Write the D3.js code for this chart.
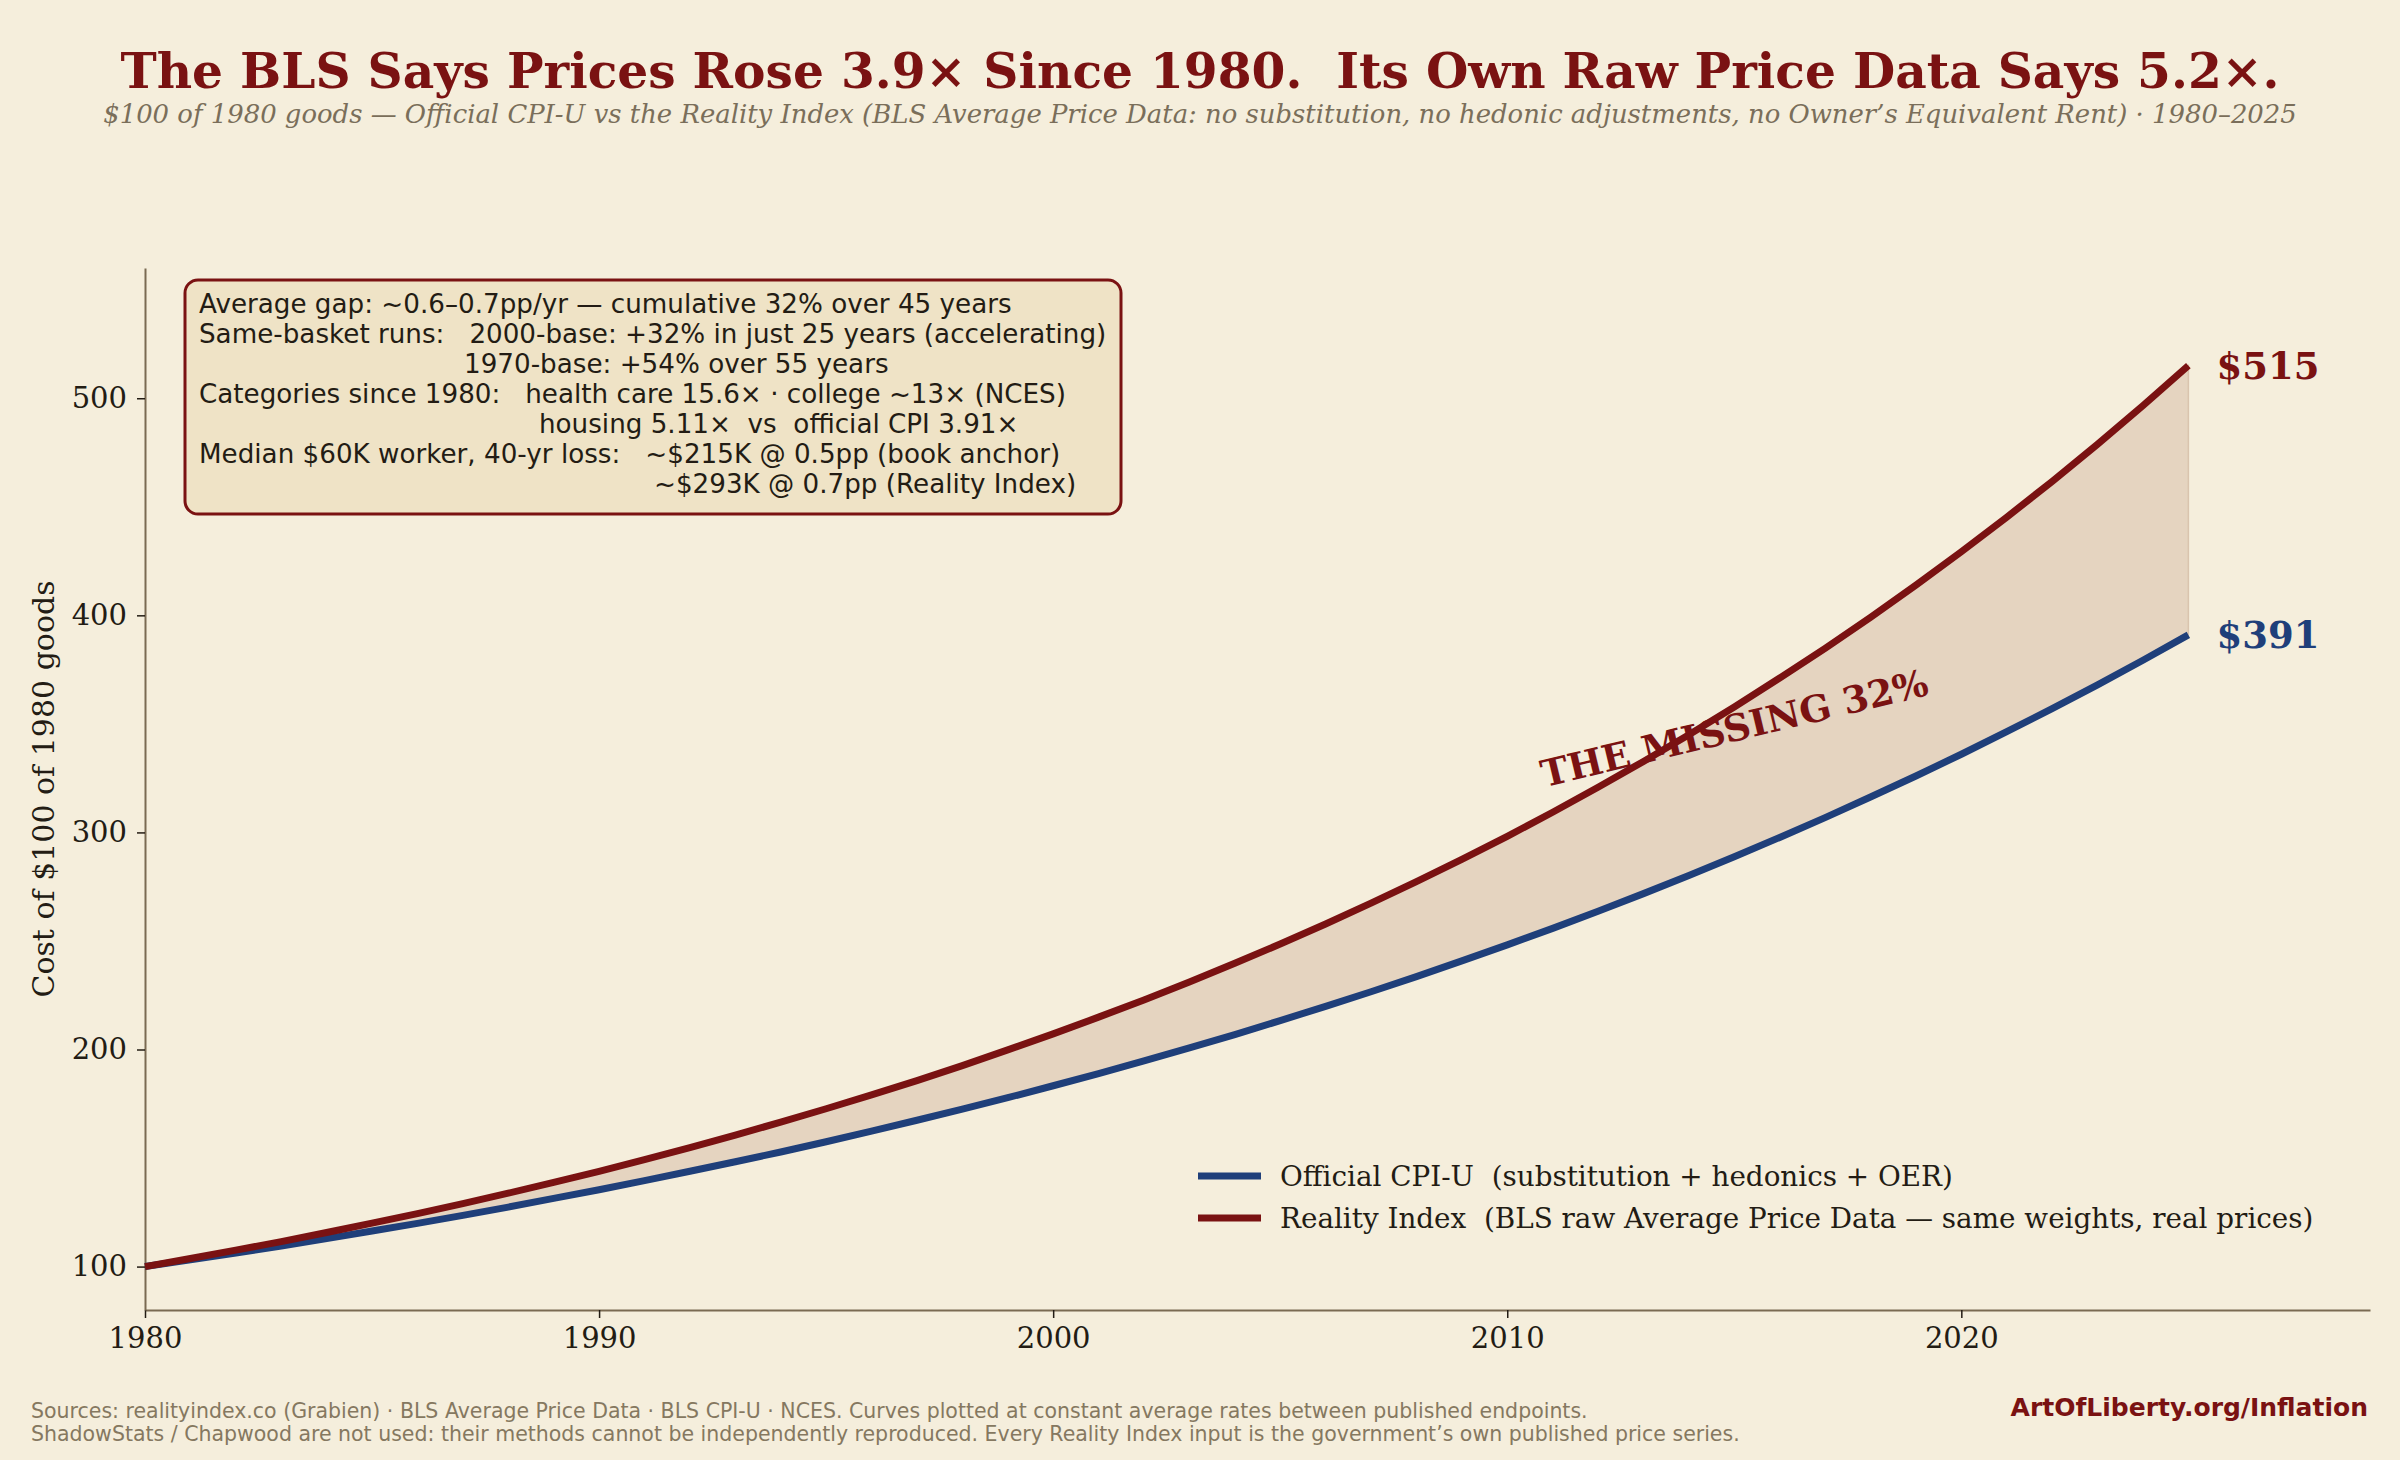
<!DOCTYPE html>
<html>
<head>
<meta charset="utf-8">
<script src="https://cdn.jsdelivr.net/npm/d3@7"></script>
<style>
  html, body { margin: 0; padding: 0; background: #f5eedc; }
  svg { display: block; }
  text { white-space: pre; }
</style>
</head>
<body>
<div id="chart"></div>
<script>
// values, one per year 1980..2025
var years = d3.range(1980, 2026);
var cpiValues = [
  100.0, 103.1, 106.2, 109.5, 112.9, 116.4, 119.9, 123.6, 127.4, 131.4,
  135.4, 139.6, 143.9, 148.3, 152.8, 157.5, 162.4, 167.4, 172.5, 177.8,
  183.3, 188.9, 194.8, 200.8, 206.9, 213.3, 219.9, 226.6, 233.6, 240.8,
  248.2, 255.8, 263.7, 271.8, 280.2, 288.8, 297.7, 306.8, 316.3, 326.0,
  336.0, 346.4, 357.0, 368.0, 379.3, 391.0
];
var realityValues = [
  100.0, 103.7, 107.6, 111.5, 115.7, 120.0, 124.4, 129.0, 133.8, 138.8,
  143.9, 149.3, 154.8, 160.6, 166.5, 172.7, 179.1, 185.7, 192.6, 199.8,
  207.2, 214.9, 222.8, 231.1, 239.7, 248.6, 257.8, 267.4, 277.3, 287.6,
  298.2, 309.3, 320.8, 332.7, 345.0, 357.8, 371.1, 384.8, 399.1, 413.9,
  429.3, 445.2, 461.7, 478.8, 496.6, 515.0
];
var xTicks = [1980, 1990, 2000, 2010, 2020];
var yTicks = [100, 200, 300, 400, 500];
var seriesNames = [
  "Official CPI-U  (substitution + hedonics + OER)",
  "Reality Index  (BLS raw Average Price Data \u2014 same weights, real prices)"
];
var endLabels = ["$391", "$515"];
var gapLabel = "THE MISSING 32%";
var gapLabelAt = [2015.0, 348];

var title = "The BLS Says Prices Rose 3.9\u00d7 Since 1980.  Its Own Raw Price Data Says 5.2\u00d7.";
var subtitle = "$100 of 1980 goods \u2014 Official CPI-U vs the Reality Index (BLS Average Price Data: no substitution, no hedonic adjustments, no Owner\u2019s Equivalent Rent) \u00b7 1980\u20132025";
var yLabel = "Cost of $100 of 1980 goods";
var boxLines = [
  ["Average gap: ~0.6\u20130.7pp/yr \u2014 cumulative 32% over 45 years", 0],
  ["Same-basket runs:   2000-base: +32% in just 25 years (accelerating)", 0],
  ["1970-base: +54% over 55 years", 265],
  ["Categories since 1980:   health care 15.6\u00d7 \u00b7 college ~13\u00d7 (NCES)", 0],
  ["housing 5.11\u00d7  vs  official CPI 3.91\u00d7", 340],
  ["Median $60K worker, 40-yr loss:   ~$215K @ 0.5pp (book anchor)", 0],
  ["~$293K @ 0.7pp (Reality Index)", 455]
];
var footerLines = [
  "Sources: realityindex.co (Grabien) \u00b7 BLS Average Price Data \u00b7 BLS CPI-U \u00b7 NCES. Curves plotted at constant average rates between published endpoints.",
  "ShadowStats / Chapwood are not used: their methods cannot be independently reproduced. Every Reality Index input is the government\u2019s own published price series."
];
var credit = "ArtOfLiberty.org/Inflation";

var W = 2400, H = 1460;
var margin = {top: 268, right: 30, bottom: 150, left: 145};
var red = "#7a1212", blue = "#1f3f7a", ink = "#231c14", spine = "#7a6a52";
var serif = "'DejaVu Serif', serif", sans = "'DejaVu Sans', sans-serif";

var svg = d3.select('#chart').append('svg')
    .attr('width', W).attr('height', H);
svg.append('rect').attr('width', W).attr('height', H).attr('fill', '#f5eedc');

var x = d3.scaleLinear().domain([1980, 2029]).range([margin.left, W - margin.right]);
var y = d3.scaleLinear().domain([80, 560]).range([H - margin.bottom, margin.top]);

var rows = years.map(function(yr, i) {
  return {year: yr, cpi: cpiValues[i], real: realityValues[i]};
});

// gap fill
svg.append('path')
  .datum(rows)
  .attr('fill', '#e5d4c0')
  .attr('stroke', '#d9c4ae')
  .attr('stroke-width', 1.5)
  .attr('d', d3.area()
        .x(function(d) { return x(d.year); })
        .y0(function(d) { return y(d.cpi); })
        .y1(function(d) { return y(d.real); }));

// axes
var xAxis = svg.append('g')
  .attr('transform', 'translate(0,' + (H - margin.bottom) + ')')
  .call(d3.axisBottom(x).tickValues(xTicks).tickFormat(d3.format('d'))
        .tickSize(8).tickSizeOuter(0).tickPadding(9));
var yAxis = svg.append('g')
  .attr('transform', 'translate(' + margin.left + ',0)')
  .call(d3.axisLeft(y).tickValues(yTicks).tickSize(8).tickSizeOuter(0).tickPadding(10));
[xAxis, yAxis].forEach(function(g) {
  g.select('.domain').attr('stroke', spine).attr('stroke-width', 2);
  g.selectAll('.tick line').attr('stroke', ink).attr('stroke-width', 1.5);
  g.selectAll('.tick text').attr('fill', ink)
    .style('font-family', serif).style('font-size', '29px');
});

svg.append('text')
  .attr('transform', 'translate(43,' + ((margin.top + H - margin.bottom) / 2) + ') rotate(-90)')
  .attr('text-anchor', 'middle').attr('dominant-baseline', 'central')
  .attr('fill', ink)
  .style('font-family', serif).style('font-size', '30px')
  .text(yLabel);

// lines
var line = function(key) {
  return d3.line().x(function(d) { return x(d.year); }).y(function(d) { return y(d[key]); });
};
svg.append('path').datum(rows)
  .attr('fill', 'none').attr('stroke', blue).attr('stroke-width', 7)
  .attr('d', line('cpi'));
svg.append('path').datum(rows)
  .attr('fill', 'none').attr('stroke', red).attr('stroke-width', 7)
  .attr('d', line('real'));

// end labels
var last = rows[rows.length - 1];
[[last.cpi, blue, endLabels[0]], [last.real, red, endLabels[1]]].forEach(function(l) {
  svg.append('text')
    .attr('x', x(last.year + 0.62)).attr('y', y(l[0]))
    .attr('dominant-baseline', 'central')
    .attr('fill', l[1])
    .style('font-family', serif).style('font-size', '37px').style('font-weight', 'bold')
    .text(l[2]);
});

// gap label
svg.append('text')
  .attr('transform', 'translate(' + x(gapLabelAt[0]) + ',' + y(gapLabelAt[1]) + ') rotate(-13.5)')
  .attr('text-anchor', 'middle').attr('dominant-baseline', 'central')
  .attr('fill', red)
  .style('font-family', serif).style('font-size', '37px').style('font-weight', 'bold')
  .text(gapLabel);

// legend
var legend = svg.append('g');
[blue, red].forEach(function(c, i) {
  var ly = 1176 + i * 42;
  legend.append('line')
    .attr('x1', 1198).attr('x2', 1261).attr('y1', ly).attr('y2', ly)
    .attr('stroke', c).attr('stroke-width', 7);
  legend.append('text')
    .attr('x', 1280).attr('y', ly).attr('dominant-baseline', 'central')
    .attr('fill', ink)
    .style('font-family', serif).style('font-size', '27.8px')
    .text(seriesNames[i]);
});

// annotation box
svg.append('rect')
  .attr('x', 185).attr('y', 280).attr('width', 936).attr('height', 234)
  .attr('rx', 13).attr('fill', '#efe3c6').attr('stroke', red).attr('stroke-width', 3);
boxLines.forEach(function(l, i) {
  svg.append('text')
    .attr('x', 199 + l[1]).attr('y', 313 + i * 30)
    .attr('fill', ink)
    .style('font-family', sans).style('font-size', '26.2px')
    .text(l[0]);
});

// titles
svg.append('text')
  .attr('x', W / 2).attr('y', 88).attr('text-anchor', 'middle')
  .attr('fill', red)
  .style('font-family', serif).style('font-size', '48.7px').style('font-weight', 'bold')
  .text(title);
svg.append('text')
  .attr('x', W / 2).attr('y', 123).attr('text-anchor', 'middle')
  .attr('fill', '#7a6e5a')
  .style('font-family', serif).style('font-size', '25.9px').style('font-style', 'italic')
  .text(subtitle);

// footer
footerLines.forEach(function(t, i) {
  svg.append('text')
    .attr('x', 31).attr('y', 1418 + i * 23)
    .attr('fill', '#857860')
    .style('font-family', sans).style('font-size', '20.5px')
    .text(t);
});
svg.append('text')
  .attr('x', 2368).attr('y', 1416).attr('text-anchor', 'end')
  .attr('fill', red)
  .style('font-family', sans).style('font-size', '25px').style('font-weight', 'bold')
  .text(credit);
</script>
</body>
</html>
